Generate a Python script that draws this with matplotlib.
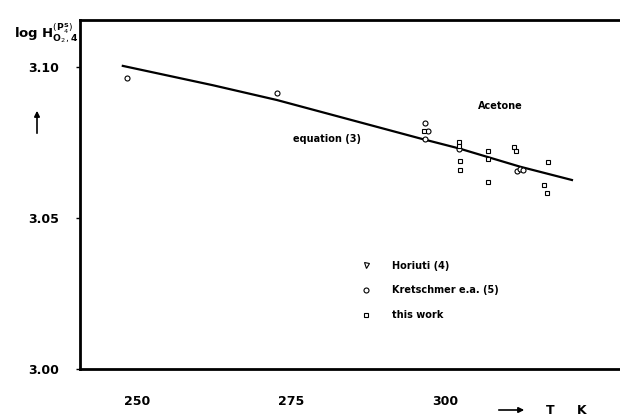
import matplotlib
matplotlib.use("Agg")
from matplotlib import pyplot as plt
from matplotlib.lines import Line2D

# equation (3) curve
eq_T = [247.7, 262.3, 272.7, 295.9, 302.2, 312.2, 320.6]
eq_logH = [3.1004, 3.0940, 3.0891, 3.0764, 3.0731, 3.0670, 3.0626]

# Horiuti (4) - none clearly visible in the plot
hor_T = []
hor_logH = []

# Kretschmer e.a. (5)
kre_T = [248.4, 272.8, 296.8, 297.3, 296.8, 302.3, 311.7, 312.1, 312.7]
kre_logH = [3.0964, 3.0915, 3.0816, 3.0789, 3.0761, 3.0728, 3.0657, 3.0661, 3.0659]

# this work
tw_T = [296.6, 302.2, 302.3, 302.5, 302.5, 306.9, 306.9, 306.9, 311.2, 311.6, 316.7, 316.1, 316.6]
tw_logH = [3.0789, 3.0751, 3.0739, 3.0690, 3.0659, 3.0722, 3.0694, 3.0621,
           3.0735, 3.0721, 3.0686, 3.0609, 3.0582]

x_ticks = [250, 275, 300]
y_ticks = [3.00, 3.05, 3.10]
y_tick_labels = ["3.00", "3.05", "3.10"]

W, H = 620, 415

def px(x, y):
    # image pixel (from top-left) -> figure fraction
    return x / W, 1 - y / H

plt.rcParams['font.family'] = ['DejaVu Sans']

fig = plt.figure(figsize=(6.2, 4.15), dpi=100)
ax = fig.add_axes([80 / W, (H - 369) / H, (W - 80) / W, (369 - 20) / H])

ax.plot(eq_T, eq_logH, color='black', lw=1.6)
ms = 3.6
ax.plot(hor_T, hor_logH, 'v', ms=ms, mfc='white', mec='black', mew=0.8)
ax.plot(kre_T, kre_logH, 'o', ms=ms, mfc='white', mec='black', mew=0.8)
ax.plot(tw_T, tw_logH, 's', ms=ms - 0.4, mfc='white', mec='black', mew=0.8)

ax.set_xlim(240.75, 328.4)
ax.set_ylim(3.0, 3.1156)

ax.set_xticks(x_ticks)
ax.set_xticklabels([str(t) for t in x_ticks], fontsize=9, fontweight='bold')
ax.set_yticks(y_ticks)
ax.set_yticklabels(y_tick_labels, fontsize=9, fontweight='bold')
ax.tick_params(axis='x', length=0, pad=19)
ax.tick_params(axis='y', direction='out', length=3, width=1, pad=12)

for s in ['left', 'top', 'bottom']:
    ax.spines[s].set_linewidth(2)
ax.spines['right'].set_visible(False)

# axis titles
fig.text(*px(14, 33), r'log $\mathbf{H}^{(\mathbf{P}_{4}^{\mathbf{S}})}_{\mathbf{O}_{2},\mathbf{4}}$',
         fontsize=9.5, fontweight='bold', ha='left', va='center')
ax.annotate('', xy=px(37, 108), xytext=px(37, 136), xycoords='figure fraction',
            textcoords='figure fraction',
            arrowprops=dict(arrowstyle='-|>', color='black', lw=1.2, mutation_scale=8))
ax.annotate('', xy=px(527, 410), xytext=px(496, 410), xycoords='figure fraction',
            textcoords='figure fraction',
            arrowprops=dict(arrowstyle='-|>', color='black', lw=1.2, mutation_scale=8))
fig.text(*px(550, 410), 'T', fontsize=9, fontweight='bold', ha='center', va='center')
fig.text(*px(582, 410), 'K', fontsize=9, fontweight='bold', ha='center', va='center')

# in-plot labels
fig.text(*px(500, 106), 'Acetone', fontsize=7, fontweight='bold', ha='center', va='center')
fig.text(*px(293, 139), 'equation (3)', fontsize=7, fontweight='bold', ha='left', va='center')

handles = [
    Line2D([], [], ls='none', marker='v', ms=ms, mfc='white', mec='black', mew=0.8),
    Line2D([], [], ls='none', marker='o', ms=ms, mfc='white', mec='black', mew=0.8),
    Line2D([], [], ls='none', marker='s', ms=ms - 0.4, mfc='white', mec='black', mew=0.8),
]
labels = ['Horiuti (4)', 'Kretschmer e.a. (5)', 'this work']
leg = ax.legend(handles, labels, loc='upper left', bbox_to_anchor=px(356, 256),
                bbox_transform=fig.transFigure, frameon=False,
                prop={'size': 7, 'weight': 'bold'}, handlelength=1.0,
                handletextpad=2.2, labelspacing=1.5, borderpad=0)

fig.savefig('out.png', dpi=100)
